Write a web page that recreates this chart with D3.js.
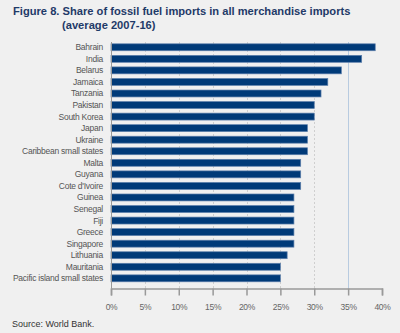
<!DOCTYPE html>
<html><head><meta charset="utf-8">
<script src="https://cdn.jsdelivr.net/npm/d3@7"></script>
<style>
html,body{margin:0;padding:0;background:#f0f0f0;}
svg{display:block;font-family:"Liberation Sans",Arial,sans-serif;}
</style></head>
<body>
<svg id="c" width="400" height="333"></svg>
<script>
const categories = ["Bahrain","India","Belarus","Jamaica","Tanzania","Pakistan","South Korea","Japan","Ukraine","Caribbean small states","Malta","Guyana","Cote d'Ivoire","Guinea","Senegal","Fiji","Greece","Singapore","Lithuania","Mauritania","Pacific island small states"];
const values = [39,37,34,32,31,30,30,29,29,29,28,28,28,27,27,27,27,27,26,25,25];
const ticks = [0,5,10,15,20,25,30,35,40];

const svg = d3.select("#c");
svg.append("rect").attr("width",400).attr("height",333).attr("fill","#f0f0f0");

const x = d3.scaleLinear().domain([0,40]).range([111,382]);
const y = d3.scaleBand().domain(categories).range([41.5,284.1]).paddingInner(0.4).paddingOuter(0.2);
const axisY = 288.5;

// title
const t = svg.append("text").attr("fill","#1f3a68").attr("font-weight","bold").attr("font-size",11.15);
t.append("tspan").attr("x",13).attr("y",15).text("Figure 8. Share of fossil fuel imports in all merchandise imports");
t.append("tspan").attr("x",62).attr("y",29).text("(average 2007-16)");

// gridlines
svg.append("g").selectAll("line").data(ticks.filter(d=>d>0 && d<40)).join("line")
  .attr("x1",d=>Math.round(x(d))+0.5).attr("x2",d=>Math.round(x(d))+0.5)
  .attr("y1",42).attr("y2",axisY)
  .attr("stroke",d=>d===35?"#b8cbe0":"#cfcfcf")
  .attr("stroke-width",1)
  .attr("stroke-dasharray",d=>d===35?null:"2,2");

// bars
svg.append("g").selectAll("rect").data(values).join("rect")
  .attr("x",x(0)).attr("y",(d,i)=>y(categories[i]))
  .attr("width",d=>x(d)-x(0)).attr("height",y.bandwidth())
  .attr("fill","#003a78").attr("stroke","#5c7fab").attr("stroke-width",0.7);

// y axis line
svg.append("line").attr("x1",x(0)+0.5).attr("x2",x(0)+0.5).attr("y1",42).attr("y2",axisY).attr("stroke","#999");

// category labels
svg.append("g").selectAll("text").data(categories).join("text")
  .attr("x",103).attr("y",d=>y(d)+y.bandwidth()/2).attr("dy","0.35em")
  .attr("text-anchor","end").attr("font-size",8.5).attr("fill","#555").attr("letter-spacing",-0.25)
  .text(d=>d);

// x axis
const xa = svg.append("g").attr("transform",`translate(0,${axisY})`)
  .call(d3.axisBottom(x).tickValues(ticks).tickFormat(d=>d+"%").tickSize(7).tickPadding(8));
xa.select(".domain").attr("stroke","#999").attr("stroke-width",1.5);
xa.selectAll(".tick line").attr("stroke","#999").attr("stroke-width",1.5);
xa.selectAll(".tick text").attr("fill","#666").attr("font-size",8.5).attr("font-family","Liberation Sans,Arial,sans-serif").attr("letter-spacing",-0.3);

// source
svg.append("text").attr("x",12).attr("y",327).attr("font-size",9).attr("fill","#333").text("Source: World Bank.");
</script>
</body></html>
